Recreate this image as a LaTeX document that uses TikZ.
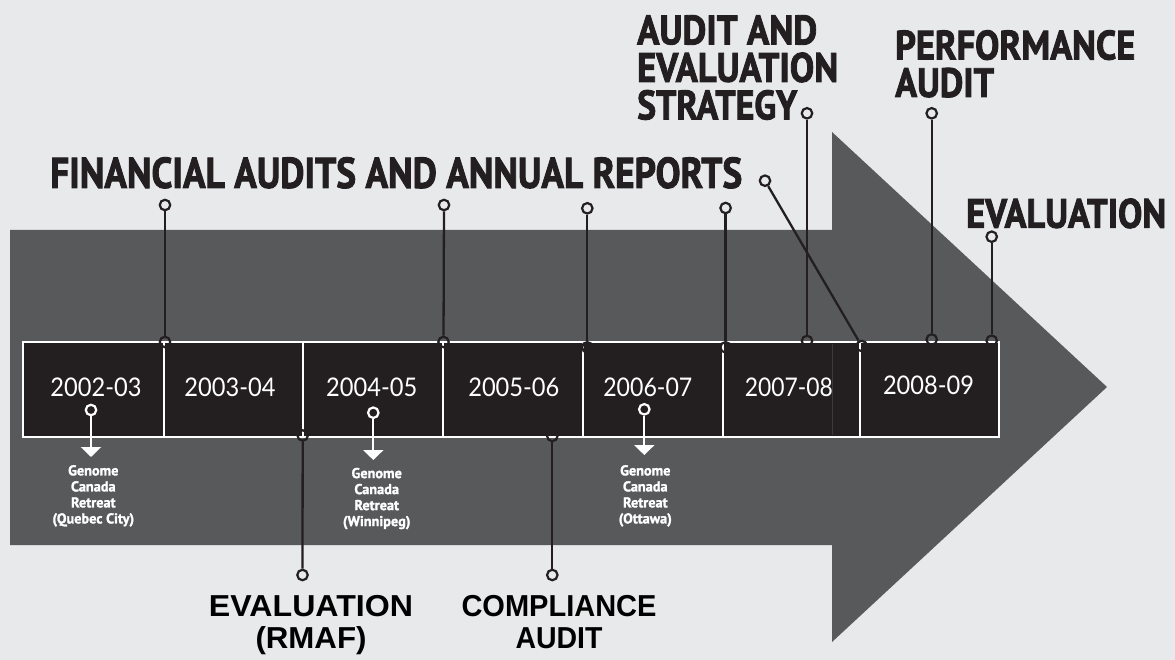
\documentclass[tikz,border=0pt]{standalone}
\usepackage{fontspec}
\usepackage{graphicx}
\usetikzlibrary{arrows.meta}
\setmainfont{Liberation Sans}
\newfontfamily\headfont{PT Sans Bold}[FakeBold=2.2]
\newfontfamily\notefont{PT Sans Bold}[FakeBold=1.6]
\newfontfamily\yearfont{Lato}

\definecolor{bg}{HTML}{E8E9EB}
\definecolor{arrowgray}{HTML}{58595B}
\definecolor{ink}{HTML}{231F20}

% set a line of text to a given width, keeping its height
\newcommand\fitline[2]{\resizebox{#1pt}{\height}{#2}}

\tikzset{
  conn/.style={draw=ink, line width=2.3pt},
  dot/.style={circle, draw=ink, line width=2.2pt, minimum size=10.5pt, inner sep=0pt},
  wdot/.style={circle, draw=white, line width=2.2pt, minimum size=10.5pt, inner sep=0pt},
  garrow/.style={draw=white, line width=2.3pt, -{Triangle[width=20pt,length=10pt]}},
  yearbox/.style={draw=white, line width=2.5pt, fill=ink, minimum height=95pt, inner sep=0pt},
  yeartext/.style={text=white, font=\yearfont\fontsize{25.7}{30}\selectfont, inner sep=0pt, anchor=base},
  heading/.style={text=ink, font=\headfont\fontsize{41}{37.5}\selectfont, inner sep=0pt, anchor=north west, align=left},
  note/.style={text=white, font=\notefont\fontsize{14.3}{16}\selectfont, align=center, inner sep=0pt, anchor=north},
  lbl/.style={text=black, font=\bfseries\fontsize{30.3}{32.5}\selectfont, align=center, inner sep=0pt, anchor=north},
}

\begin{document}
\begin{tikzpicture}[x=1pt, y=-1pt]
  % page and background
  \useasboundingbox (0,0) rectangle (1175,660);
  \fill[bg] (0,0) rectangle (1175,660);

  % the big arrow
  \fill[arrowgray] (10,230) -- (832,230) -- (832,132) -- (1107,387)
                   -- (832,642) -- (832,545) -- (10,545) -- cycle;

  % year boxes
  \node[yearbox, minimum width=141pt] (b1) at (93.5,389.5) {};
  \node[yearbox, minimum width=139pt] (b2) at (233.5,389.5) {};
  \node[yearbox, minimum width=140pt] (b3) at (373,389.5) {};
  \node[yearbox, minimum width=140pt] (b4) at (513,389.5) {};
  \node[yearbox, minimum width=140pt] (b5) at (653,389.5) {};
  \node[yearbox, minimum width=137pt] (b6) at (791.5,389.5) {};
  \node[yearbox, minimum width=139pt] (b7) at (929.5,389.5) {};
  \draw[draw=ink!88!white, line width=0.6pt] (832,344) -- (832,435);

  \node[yeartext] (t1) at (96,396.7) {\fitline{91}{2002-03}};
  \node[yeartext] (t2) at (230,396.7) {\fitline{91}{2003-04}};
  \node[yeartext] (t3) at (371.7,396.7) {\fitline{91}{2004-05}};
  \node[yeartext] (t4) at (513.8,396.7) {\fitline{91}{2005-06}};
  \node[yeartext] (t5) at (647.8,396.7) {\fitline{89}{2006-07}};
  \node[yeartext] (t6) at (788.8,396.7) {\fitline{88}{2007-08}};
  \node[yeartext] (t7) at (928.5,394) {\fitline{91}{2008-09}};

  % headings above the arrow
  \node[heading, font=\headfont\fontsize{43}{37.5}\selectfont] (fin) at (50,157)
       {\fitline{692}{FINANCIAL AUDITS AND ANNUAL REPORTS}};
  \node[heading] (aes) at (637,15)
       {\fitline{180}{AUDIT AND}\\\fitline{201}{EVALUATION}\\\fitline{160}{STRATEGY}};
  \node[heading] (perf) at (895,30)
       {\fitline{240}{PERFORMANCE}\\\fitline{99}{AUDIT}};
  \node[heading] (eval) at (966,198.3) {\fitline{200}{EVALUATION}};

  % headings below the arrow
  \node[lbl] (rmaf) at (311,595) {\fitline{204}{EVALUATION}\\\fitline{111}{(RMAF)}};
  \node[lbl] (comp) at (559,595) {\fitline{195}{COMPLIANCE}\\\fitline{87}{AUDIT}};

  % upper markers and their junctions on the boxes
  \node[dot] (fa1) at (165,205) {};
  \node[dot] (fa2) at (444,205) {};
  \node[dot] (fa3) at (587.3,208.3) {};
  \node[dot] (fa4) at (725.6,208) {};
  \node[dot] (fa5) at (765,180.7) {};
  \node[dot] (aesd) at (807,113.3) {};
  \node[dot] (perfd) at (931.7,113.3) {};
  \node[dot] (evald) at (991.7,236.7) {};

  \node[dot] (ja1) at (165,342) {};
  \node[dot] (ja2) at (443.5,342) {};
  \node[dot] (ja3) at (587.3,347.3) {};
  \node[dot] (ja4) at (725.6,347.3) {};
  \node[dot] (ja5) at (861.7,346) {};
  \node[dot] (jaes) at (807,341) {};
  \node[dot] (jperf) at (931.7,339.5) {};
  \node[dot] (jeval) at (991.7,340.7) {};

  \draw[conn] (fa1) -- (ja1);
  \draw[conn] (fa2) -- (ja2);
  \draw[conn] (fa3) -- (ja3);
  \draw[conn] (fa4) -- (ja4);
  \draw[conn] (fa5) -- (ja5);
  \draw[conn] (aesd) -- (jaes);
  \draw[conn] (perfd) -- (jperf);
  \draw[conn] (evald) -- (jeval);

  % lower markers
  \node[dot] (jrm) at (302.7,435.5) {};
  \node[dot] (rmd) at (302.5,575) {};
  \node[dot] (jco) at (552.3,436) {};
  \node[dot] (cod) at (552.3,575) {};
  \draw[conn] (jrm) -- (rmd);
  \draw[conn] (jco) -- (cod);

  % retreats
  \node[wdot] (g1) at (91,410) {};
  \node[wdot] (g2) at (373.3,412.7) {};
  \node[wdot] (g3) at (644.3,409.3) {};
  \coordinate (tip1) at (91,457);
  \coordinate (tip2) at (373.3,460);
  \coordinate (tip3) at (644.3,455);
  \draw[garrow] (g1) -- (tip1);
  \draw[garrow] (g2) -- (tip2);
  \draw[garrow] (g3) -- (tip3);
  \node[note] (r1) at (93.3,465) {Genome\\Canada\\Retreat\\(Quebec City)};
  \node[note] (r2) at (376.7,467.7) {Genome\\Canada\\Retreat\\(Winnipeg)};
  \node[note] (r3) at (645.3,465) {Genome\\Canada\\Retreat\\(Ottawa)};
\end{tikzpicture}
\end{document}
